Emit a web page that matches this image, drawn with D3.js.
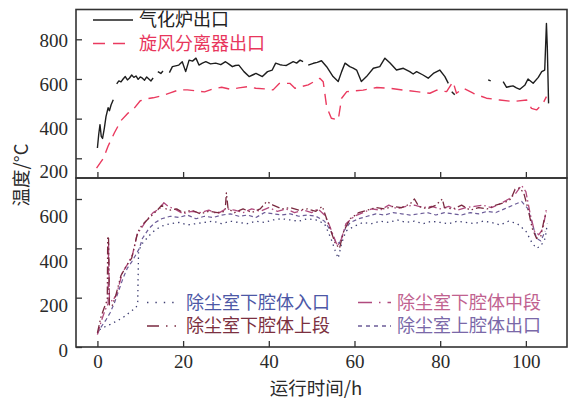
<!DOCTYPE html>
<html>
<head>
<meta charset="utf-8">
<script src="https://cdn.jsdelivr.net/npm/d3@7"></script>
<style>
  html, body { margin: 0; padding: 0; background: #fff; }
  svg { display: block; }
  .num { font-family: "Liberation Serif", "DejaVu Serif", serif; font-size: 19px; fill: #2a2a2a; }
  .cjk { font-family: "Noto Sans CJK SC", sans-serif; font-size: 18.5px; }
  .leg { font-family: "Noto Sans CJK SC", sans-serif; font-size: 18px; }
</style>
</head>
<body>
<svg id="chart" width="569" height="399"></svg>
<script>
// 上图: 气化炉出口 / 旋风分离器出口 (h, °C); null = 数据缺失
const gasifierOut = [
  [0,252],[0.3,320],[0.6,370],[0.9,310],[1.2,300],[1.6,350],[2.0,410],[2.5,455],[2.8,440],[3.2,470],[3.7,495], null,
  [4.5,575],[5.0,590],[5.5,585],[6.0,600],[6.5,612],[7.0,595],[7.5,605],[8.0,620],[8.5,608],[9.0,615],[9.5,598],
  [10.0,610],[10.5,604],[11.0,594],[11.5,610],[12.0,600],[12.5,590],[13.0,605], null,
  [14.1,637],[14.8,628],[15.3,640], null,
  [16.8,632],[17.5,662],[19.0,670],[19.8,687],[20.6,637],[21.4,695],[22.2,690],[23.0,705],[23.7,670],[24.5,680],
  [25.3,687],[26.4,676],[27.6,680],[28.8,672],[29.9,687],[30.7,675],[31.5,662],[32.2,668],[33.0,670],[34.2,637],
  [35.4,612],[36.2,620],[37.0,628],[38.5,612],[39.7,637],[40.8,645],[41.6,680],[42.6,672],[43.2,670],[44.1,668],
  [45.7,687],[46.5,680],[47.3,695],[48.0,687], null,
  [49.2,670],[50.4,679],[51.3,684],[52.3,692],[53.5,662],[55.0,612],[56.2,587],[57.0,637],[57.8,680],[58.9,662],
  [59.7,655],[60.5,645],[61.6,587],[62.8,612],[64.4,654],[65.9,662],[67.1,705],[68.3,680],[69.8,645],[71.4,654],
  [72.9,637],[73.7,625],[74.5,637],[76.0,620],[77.2,604],[78.4,628],[79.9,645],[81.1,612],[81.9,578], null,
  [82.7,536],[83.4,520], null,
  [91.2,595],[91.8,590], null,
  [93.2,603], null,
  [94.7,587],[95.5,558],[96.2,562],[97.0,565],[97.8,555],[98.6,548],[99.8,570],[100.5,600],[101.7,578],[102.9,608],
  [103.7,637],[104.4,645],[104.8,880],[105.0,763],[105.3,477]
];
const cycloneOut = [
  [-0.2,150],[1.4,200],[2.5,262],[4.0,330],[5.5,390],[7.0,425],[8.5,450],[10.0,490],[11.5,500],[13.0,505],
  [15.0,515],[17.0,530],[19.0,545],[21.0,545],[23.0,540],[25.0,535],[27.0,550],[29.0,558],[31.0,548],[33.0,555],
  [35.0,561],[37.0,553],[39.0,550],[41.0,545],[42.5,578],[44.9,578],[46.1,553],[49.2,570],[51.9,603],[52.7,586],
  [53.5,460],[54.6,402],[56.2,393],[57.0,503],[58.2,536],[62.0,544],[65.2,557],[68.3,553],[71.4,544],[74.5,536],
  [77.6,528],[79.2,544],[81.5,536],[83.0,586],[83.8,528],[85.4,553],[87.7,528],[90.8,503],[93.9,494],[97.0,486],
  [100.2,494],[101.3,452],[102.5,444],[104.0,477],[104.8,511]
];

// 下图: 除尘室四个测点 (h, °C)
const lowerInlet = [
  [0.5,70],[1.5,80],[3.0,92],[4.5,105],[6.0,120],[7.5,140],[9.0,160],[9.4,175],[9.6,390],[10.5,420],[12.0,450],
  [13.5,475],[15.0,490],[17.0,500],[19.0,505],[21.0,495],[23.0,500],[25.0,505],[27.0,510],[29.0,500],[31.0,510],
  [33.0,505],[35.0,500],[37.0,510],[39.0,505],[41.0,515],[43.0,520],[45.0,515],[47.0,510],[49.0,520],[51.0,515],
  [53.0,500],[54.5,440],[55.5,390],[56.2,360],[57.0,420],[58.0,470],[60.0,490],[62.0,505],[64.0,500],[66.0,510],
  [68.0,505],[70.0,515],[72.0,505],[74.0,510],[76.0,500],[78.0,510],[80.0,505],[82.0,500],[84.0,510],[86.0,505],
  [88.0,500],[90.0,510],[92.0,505],[94.0,495],[96.0,510],[98.0,500],[100.0,470],[101.5,420],[102.5,400],
  [103.5,410],[104.5,440],[105.0,500]
];
const lowerMiddle = [
  [0,50],[0.9,105],[1.8,150],[2.5,175],[2.6,420],[2.8,200],[3.5,185],[4.5,215],[5.8,300],[7.0,335],[8.2,375],
  [9.3,460],[10.0,475],[11.5,515],[13.0,545],[14.5,560],[15.5,585],[16.5,570],[18.0,560],[20.0,540],[22.0,550],
  [24.0,545],[26.0,555],[28.0,540],[30.0,560],[32.0,555],[34.0,545],[36.0,560],[38.0,550],[40.0,565],[42.0,550],
  [44.0,560],[46.0,545],[48.0,555],[50.0,545],[51.5,560],[53.0,535],[54.0,500],[55.0,455],[56.0,410],[57.0,440],
  [58.0,500],[60.0,530],[62.0,545],[64.0,560],[66.0,555],[68.0,575],[70.0,560],[72.0,570],[74.0,575],[76.0,565],
  [78.0,570],[80.0,560],[82.0,570],[84.0,555],[86.0,565],[88.0,570],[90.0,575],[92.0,565],[94.0,580],[96.0,600],
  [97.5,620],[99.0,655],[100.0,630],[101.0,540],[102.0,470],[103.0,455],[104.0,480],[104.8,560]
];
const lowerUpper = [
  [0,57],[0.8,120],[1.6,160],[2.3,190],[2.4,450],[2.6,440],[2.8,170],[3.4,165],[4.3,210],[5.5,290],[6.8,330],
  [8.0,360],[9.2,450],[9.8,480],[11.0,505],[12.5,530],[14.0,555],[15.0,575],[16.0,560],[17.0,555],[18.5,560],
  [20.0,545],[22.0,555],[24.0,540],[26.0,550],[28.0,545],[29.8,550],[30.1,625],[30.5,560],[32.0,545],[34.0,560],
  [36.0,545],[38.0,560],[39.5,590],[41.0,575],[43.0,560],[45.0,565],[47.0,555],[49.0,560],[51.0,550],[52.5,570],
  [53.5,520],[54.5,470],[55.5,420],[56.5,400],[57.5,470],[59.0,520],[61.0,545],[63.0,555],[65.0,565],[67.0,560],
  [69.0,570],[71.0,565],[73.0,580],[74.0,600],[75.0,570],[77.0,560],[79.0,575],[80.5,600],[81.0,565],[83.0,560],
  [85.0,575],[87.0,555],[89.0,565],[91.0,560],[93.0,575],[95.0,585],[96.5,600],[97.5,640],[98.5,645],[99.5,625],
  [100.5,560],[101.5,480],[102.5,440],[103.5,450],[104.3,520],[104.8,545]
];
const upperOutlet = [
  [0,55],[1.0,85],[2.0,110],[3.0,140],[4.0,180],[5.0,230],[6.0,280],[7.0,320],[8.0,345],[9.0,375],[9.8,400],
  [10.5,440],[12.0,480],[13.5,505],[15.0,520],[17.0,530],[19.0,525],[21.0,535],[23.0,520],[25.0,530],[27.0,525],
  [29.0,535],[31.0,540],[33.0,530],[35.0,535],[37.0,525],[39.0,545],[41.0,540],[43.0,535],[45.0,540],[47.0,530],
  [49.0,535],[51.0,530],[53.0,510],[54.5,470],[55.5,430],[56.5,420],[57.5,470],[59.0,505],[61.0,520],[63.0,530],
  [65.0,540],[67.0,535],[69.0,545],[71.0,540],[73.0,535],[75.0,540],[77.0,545],[79.0,535],[81.0,545],[83.0,540],
  [85.0,535],[87.0,545],[89.0,540],[91.0,550],[93.0,545],[95.0,560],[97.0,575],[99.0,590],[100.5,560],
  [101.5,500],[102.5,440],[103.5,430],[104.5,470]
];

const xTicks = [0, 20, 40, 60, 80, 100];
const yTicksTop = [200, 400, 600, 800];
const yTicksBottom = [0, 200, 400, 600];

const svg = d3.select('#chart');

const x = d3.scaleLinear().domain([-5, 109.6]).range([76, 567]);
const yTop = d3.scaleLinear().domain([200, 800]).range([158.3, 39.3]);
const yBot = d3.scaleLinear().domain([0, 600]).range([347, 199]);
// 原图刻度文字与刻度线略有错位, 按原图位置放置文字
const yTopLabel = d3.scaleLinear().domain([200, 800]).range([171.7, 40.7]);
const yBotLabel = d3.scaleLinear().domain([0, 600]).range([350, 216.7]);

const frameColor = '#333';

function drawPanel(top, bottom) {
  svg.append('rect')
    .attr('x', 76).attr('y', top)
    .attr('width', 567 - 76).attr('height', bottom - top)
    .attr('fill', 'none').attr('stroke', frameColor).attr('stroke-width', 1.6);
}

function clip(id, top, bottom) {
  svg.append('clipPath').attr('id', id)
    .append('rect').attr('x', 76).attr('y', top).attr('width', 567 - 76).attr('height', bottom - top);
}

clip('clipTop', 9.5, 178);
clip('clipBot', 178, 347);

// y 轴
function yAxis(scale, labelScale, ticks) {
  return g => {
    g.attr('transform', 'translate(76,0)')
      .call(d3.axisLeft(scale).tickValues(ticks).tickSize(-6).tickPadding(8).tickFormat(d3.format('d')))
      .call(g => g.select('.domain').remove())
      .call(g => g.selectAll('.tick line').attr('stroke', frameColor).attr('stroke-width', 1.3))
      .call(g => g.selectAll('.tick text')
        .attr('class', 'num').attr('fill', null)
        .attr('y', d => labelScale(d) - scale(d)));
  };
}

svg.append('g').call(yAxis(yTop, yTopLabel, yTicksTop));
svg.append('g').call(yAxis(yBot, yBotLabel, yTicksBottom));

// x 轴 (上图只有刻度线)
svg.append('g')
  .attr('transform', 'translate(0,178)')
  .call(d3.axisBottom(x).tickValues(xTicks).tickSize(-6).tickFormat(''))
  .call(g => g.select('.domain').remove())
  .call(g => g.selectAll('.tick line').attr('stroke', frameColor).attr('stroke-width', 1.3));

svg.append('g')
  .attr('transform', 'translate(0,347)')
  .call(d3.axisBottom(x).tickValues(xTicks).tickSize(-6).tickPadding(8))
  .call(g => g.select('.domain').remove())
  .call(g => g.selectAll('.tick line').attr('stroke', frameColor).attr('stroke-width', 1.3))
  .call(g => g.selectAll('.tick text').attr('class', 'num').attr('fill', null));

// 曲线
function drawLine(data, yScale, clipId, color, dash, width) {
  const line = d3.line()
    .defined(d => d !== null)
    .x(d => x(d[0]))
    .y(d => yScale(d[1]));
  svg.append('path')
    .datum(data)
    .attr('clip-path', `url(#${clipId})`)
    .attr('fill', 'none')
    .attr('stroke', color)
    .attr('stroke-width', width || 1.3)
    .attr('stroke-dasharray', dash)
    .attr('stroke-linejoin', 'round')
    .attr('d', line);
}

const black = '#1e1e1e';
const red = '#ea3a5f';
const cInlet = '#3e3e72';
const cMiddle = '#b04a7e';
const cUpper = '#7a2a40';
const cOutlet = '#6c5c98';

drawLine(cycloneOut, yTop, 'clipTop', red, '11,7', 1.4);
drawLine(gasifierOut, yTop, 'clipTop', black, null, 1.4);

drawLine(lowerInlet, yBot, 'clipBot', cInlet, '1.4,4', 1.3);
drawLine(upperOutlet, yBot, 'clipBot', cOutlet, '4,3', 1.2);
drawLine(lowerMiddle, yBot, 'clipBot', cMiddle, '8,3,1.5,3', 1.3);
drawLine(lowerUpper, yBot, 'clipBot', cUpper, '8,3,1.5,3,1.5,3', 1.3);

drawPanel(9.5, 178);
drawPanel(178, 347);

// 图例
const topLegend = [
  { name: '气化炉出口', color: black, text: '#222', dash: null, y: 20 },
  { name: '旋风分离器出口', color: red, text: '#e8365c', dash: '12,8', y: 43.5 }
];
const lg = svg.append('g');
topLegend.forEach(d => {
  lg.append('line').attr('x1', 93).attr('x2', 133).attr('y1', d.y).attr('y2', d.y)
    .attr('stroke', d.color).attr('stroke-width', 1.5).attr('stroke-dasharray', d.dash);
  lg.append('text').attr('class', 'leg').attr('x', 139).attr('y', d.y).attr('dy', '0.36em')
    .attr('fill', d.text).text(d.name);
});

const botLegend = [
  { name: '除尘室下腔体入口', color: cInlet, text: '#4d58a6', dash: '1.4,7', x: 147, y: 302.5 },
  { name: '除尘室下腔体中段', color: cMiddle, text: '#c0628f', dash: '14,7,1.5,7', x: 358, y: 302.5 },
  { name: '除尘室下腔体上段', color: cUpper, text: '#7c3040', dash: '12,7,1.5,7,1.5,7', x: 147, y: 326 },
  { name: '除尘室上腔体出口', color: cOutlet, text: '#7a68a8', dash: '4,4', x: 358, y: 326 }
];
botLegend.forEach(d => {
  lg.append('line').attr('x1', d.x).attr('x2', d.x + 33).attr('y1', d.y).attr('y2', d.y)
    .attr('stroke', d.color).attr('stroke-width', 1.4).attr('stroke-dasharray', d.dash);
  lg.append('text').attr('class', 'leg').attr('x', d.x + 39).attr('y', d.y).attr('dy', '0.36em')
    .attr('fill', d.text).text(d.name);
});

// 坐标轴标题
svg.append('text').attr('class', 'cjk')
  .attr('x', 316).attr('y', 388).attr('dy', '0.36em')
  .attr('text-anchor', 'middle').attr('fill', '#2a2a2a')
  .text('运行时间/h');

svg.append('text').attr('class', 'cjk')
  .attr('transform', 'translate(21,175) rotate(-90)')
  .attr('dy', '0.36em')
  .attr('text-anchor', 'middle').attr('fill', '#2a2a2a')
  .text('温度/°C');
</script>
</body>
</html>
